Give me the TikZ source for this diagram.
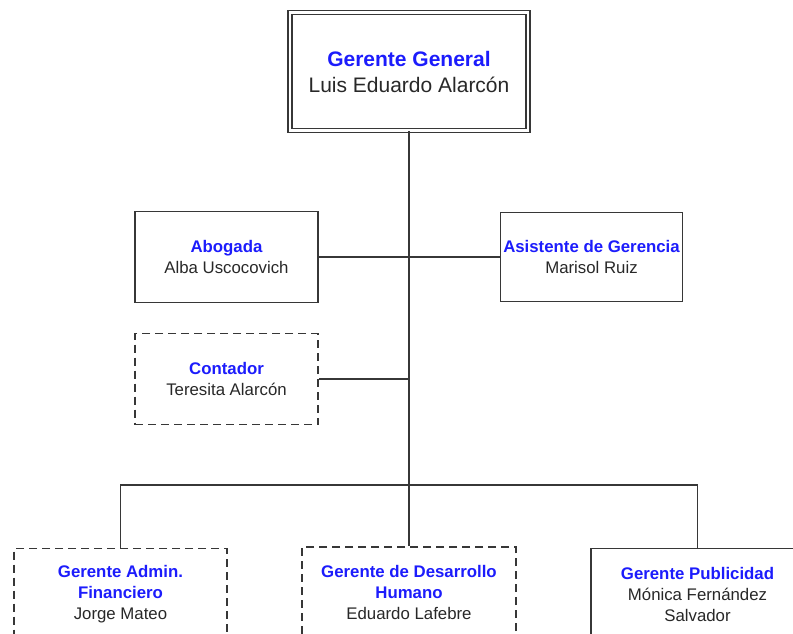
\documentclass[tikz,border=0pt]{standalone}
\usepackage{fontspec}
\setmainfont{Liberation Sans}
\definecolor{ttlblue}{RGB}{28,28,252}
\definecolor{txtgray}{RGB}{40,40,40}
\definecolor{lingray}{RGB}{55,55,55}
\newcommand{\ttl}[1]{\textcolor{ttlblue}{\bfseries #1}}
\tikzset{
  x=1pt, y=-1pt,
  orgbox/.style={draw=lingray, line width=1.6pt, fill=white, align=center, inner sep=0pt,
     text=txtgray, font=\fontsize{16.8}{21}\selectfont},
  dashbox/.style={orgbox, dash pattern=on 8pt off 5pt},
  topbox/.style={orgbox, line width=1.5pt, double=white, double distance=2.4pt, font=\fontsize{21}{26}\selectfont},
  conn/.style={draw=lingray, line width=1.6pt}
}
\begin{document}
\begin{tikzpicture}
\useasboundingbox (0,0) rectangle (793,633);
\clip (0,0) rectangle (793,633);
\fill[white] (0,0) rectangle (793,633);
\coordinate (j1) at (409,485);
\coordinate (j2) at (409,379);
\node[topbox, minimum width=238pt, minimum height=118pt] (gg) at (409,71.5) {\ttl{Gerente General}\\Luis Eduardo Alarcón};
\node[orgbox, minimum width=183pt, minimum height=91pt] (abo) at (226.5,256.8) {\ttl{Abogada}\\Alba Uscocovich};
\node[orgbox, minimum width=182pt, minimum height=89pt] (asi) at (591.5,256.8) {\ttl{Asistente de Gerencia}\\Marisol Ruiz};
\node[dashbox, minimum width=183pt, minimum height=91pt] (con) at (226.5,379) {\ttl{Contador}\\Teresita Alarcón};
\node[dashbox, minimum width=213pt, minimum height=91pt] (gaf) at (120.5,594) {\ttl{Gerente Admin.}\\\ttl{Financiero}\\Jorge Mateo};
\node[dashbox, minimum width=214pt, minimum height=91pt] (gdh) at (409,592.5) {\ttl{Gerente de Desarrollo}\\\ttl{Humano}\\Eduardo Lafebre};
\node[orgbox, minimum width=213pt, minimum height=91pt] (gp) at (697.5,594) {\ttl{Gerente Publicidad}\\Mónica Fernández\\Salvador};
\draw[conn] (gg.south) -- (j1);
\draw[conn] (abo.east) -- (asi.west);
\draw[conn] (con.east) -- (j2);
\draw[conn] (gaf.north) |- (j1) -| (gp.north);
\draw[conn] (j1) -- (gdh.north);
\end{tikzpicture}
\end{document}
